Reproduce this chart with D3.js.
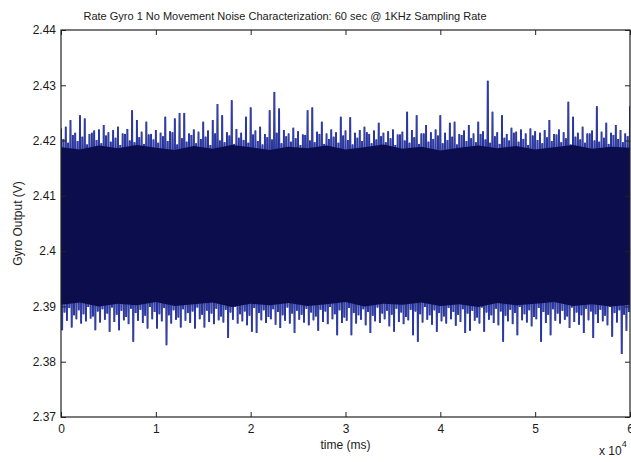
<!DOCTYPE html>
<html>
<head>
<meta charset="utf-8">
<script src="https://cdn.jsdelivr.net/npm/d3@7"></script>
<style>
  body { margin: 0; background: #fff; }
  text { font-family: "Liberation Sans", Arial, sans-serif; fill: #1a1a1a; }
</style>
</head>
<body>
<svg id="chart" width="631" height="462"></svg>
<script>
// values, one entry every 500 ms
// major = the larger excursion in that half second, minor = the smaller one 250 ms later
const STEP_MS = 500;
const majorHigh = [
  2.4222, 2.4225, 2.4237, 2.4214, 2.4246, 2.4240, 2.4212, 2.4218, 2.4220, 2.4228,
  2.4215, 2.4219, 2.4225, 2.4213, 2.4221, 2.4255, 2.4237, 2.4216, 2.4234, 2.4212,
  2.4219, 2.4214, 2.4243, 2.4217, 2.4240, 2.4250, 2.4250, 2.4213, 2.4220, 2.4216,
  2.4234, 2.4218, 2.4237, 2.4266, 2.4246, 2.4215, 2.4273, 2.4221, 2.4214, 2.4243,
  2.4260, 2.4218, 2.4225, 2.4212, 2.4255, 2.4288, 2.4258, 2.4219, 2.4213, 2.4223,
  2.4217, 2.4211, 2.4255, 2.4260, 2.4216, 2.4234, 2.4213, 2.4220, 2.4215, 2.4243,
  2.4218, 2.4242, 2.4214, 2.4219, 2.4225, 2.4212, 2.4218, 2.4232, 2.4214, 2.4217,
  2.4220, 2.4211, 2.4216, 2.4252, 2.4219, 2.4246, 2.4213, 2.4228, 2.4215, 2.4220,
  2.4246, 2.4214, 2.4232, 2.4234, 2.4212, 2.4218, 2.4228, 2.4213, 2.4234, 2.4217,
  2.4308, 2.4252, 2.4215, 2.4246, 2.4212, 2.4223, 2.4216, 2.4220, 2.4213, 2.4222,
  2.4217, 2.4214, 2.4219, 2.4237, 2.4212, 2.4220, 2.4215, 2.4270, 2.4243, 2.4214,
  2.4225, 2.4213, 2.4218, 2.4262, 2.4216, 2.4232, 2.4214, 2.4228, 2.4219, 2.4213,
  2.4262
];
const minorHigh = [
  2.4203, 2.4196, 2.4210, 2.4199, 2.4207, 2.4193, 2.4214, 2.4201, 2.4195, 2.4209,
  2.4198, 2.4205, 2.4192, 2.4212, 2.4200, 2.4197, 2.4206, 2.4194, 2.4211, 2.4202,
  2.4196, 2.4208, 2.4199, 2.4215, 2.4193, 2.4204, 2.4198, 2.4210, 2.4195, 2.4203,
  2.4207, 2.4192, 2.4213, 2.4200, 2.4197, 2.4209, 2.4194, 2.4205, 2.4201, 2.4196,
  2.4211, 2.4199, 2.4193, 2.4206, 2.4202, 2.4214, 2.4195, 2.4208, 2.4198, 2.4204,
  2.4192, 2.4210, 2.4200, 2.4197, 2.4212, 2.4194, 2.4203, 2.4207, 2.4196, 2.4209,
  2.4201, 2.4193, 2.4205, 2.4199, 2.4215, 2.4195, 2.4202, 2.4208, 2.4197, 2.4204,
  2.4192, 2.4211, 2.4200, 2.4196, 2.4206, 2.4194, 2.4213, 2.4198, 2.4203, 2.4209,
  2.4195, 2.4201, 2.4207, 2.4193, 2.4210, 2.4199, 2.4204, 2.4197, 2.4212, 2.4202,
  2.4196, 2.4208, 2.4194, 2.4205, 2.4200, 2.4214, 2.4198, 2.4203, 2.4192, 2.4209,
  2.4201, 2.4195, 2.4206, 2.4199, 2.4211, 2.4197, 2.4204, 2.4193, 2.4207, 2.4202,
  2.4196, 2.4213, 2.4200, 2.4198, 2.4205, 2.4194, 2.4210, 2.4203, 2.4197, 2.4208,
  2.4201
];
const majorLow = [
  2.3857, 2.3874, 2.3862, 2.3877, 2.3869, 2.3873, 2.3878, 2.3857, 2.3871, 2.3876,
  2.3854, 2.3872, 2.3857, 2.3875, 2.3868, 2.3836, 2.3874, 2.3870, 2.3860, 2.3877,
  2.3860, 2.3873, 2.3830, 2.3869, 2.3876, 2.3862, 2.3874, 2.3870, 2.3860, 2.3877,
  2.3862, 2.3872, 2.3868, 2.3875, 2.3871, 2.3843, 2.3876, 2.3869, 2.3873, 2.3866,
  2.3854, 2.3852, 2.3875, 2.3870, 2.3877, 2.3867, 2.3861, 2.3874, 2.3869, 2.3852,
  2.3876, 2.3871, 2.3866, 2.3875, 2.3856, 2.3872, 2.3868, 2.3877, 2.3848, 2.3870,
  2.3874, 2.3848, 2.3869, 2.3876, 2.3866, 2.3852, 2.3873, 2.3870, 2.3877, 2.3864,
  2.3854, 2.3872, 2.3868, 2.3875, 2.3848, 2.3836, 2.3871, 2.3876, 2.3867, 2.3854,
  2.3873, 2.3869, 2.3877, 2.3865, 2.3872, 2.3852, 2.3856, 2.3874, 2.3869, 2.3854,
  2.3876, 2.3870, 2.3866, 2.3836, 2.3873, 2.3868, 2.3848, 2.3875, 2.3871, 2.3864,
  2.3877, 2.3836, 2.3870, 2.3848, 2.3874, 2.3869, 2.3876, 2.3861, 2.3872, 2.3867,
  2.3852, 2.3875, 2.3843, 2.3870, 2.3873, 2.3866, 2.3845, 2.3871, 2.3814, 2.3856,
  2.3872
];
const minorLow = [
  2.3889, 2.3897, 2.3884, 2.3893, 2.3886, 2.3899, 2.3882, 2.3891, 2.3895, 2.3887,
  2.3898, 2.3885, 2.3892, 2.3881, 2.3896, 2.3888, 2.3894, 2.3883, 2.3899, 2.3890,
  2.3886, 2.3897, 2.3884, 2.3893, 2.3880, 2.3895, 2.3888, 2.3891, 2.3898, 2.3885,
  2.3892, 2.3887, 2.3896, 2.3882, 2.3894, 2.3889, 2.3899, 2.3886, 2.3891, 2.3883,
  2.3897, 2.3888, 2.3893, 2.3881, 2.3895, 2.3890, 2.3884, 2.3898, 2.3887, 2.3892,
  2.3885, 2.3896, 2.3889, 2.3882, 2.3894, 2.3891, 2.3899, 2.3886, 2.3893, 2.3880,
  2.3897, 2.3888, 2.3884, 2.3895, 2.3890, 2.3883, 2.3898, 2.3887, 2.3892, 2.3885,
  2.3896, 2.3889, 2.3881, 2.3894, 2.3891, 2.3886, 2.3899, 2.3884, 2.3893, 2.3888,
  2.3882, 2.3897, 2.3890, 2.3885, 2.3895, 2.3887, 2.3892, 2.3880, 2.3898, 2.3889,
  2.3884, 2.3896, 2.3891, 2.3883, 2.3894, 2.3888, 2.3899, 2.3886, 2.3893, 2.3881,
  2.3897, 2.3890, 2.3885, 2.3895, 2.3887, 2.3892, 2.3882, 2.3898, 2.3889, 2.3884,
  2.3896, 2.3891, 2.3886, 2.3894, 2.3883, 2.3899, 2.3888, 2.3893, 2.3885, 2.3890,
  2.3887
];

// the solid dark band where the trace overlaps itself, every 2000 ms
const CORE_STEP_MS = 2000;
const coreTop = [
  2.4188, 2.4184, 2.4191, 2.4186, 2.4192, 2.4187, 2.4183, 2.4190, 2.4185, 2.4192,
  2.4188, 2.4183, 2.4189, 2.4186, 2.4191, 2.4184, 2.4188, 2.4193, 2.4185, 2.4189,
  2.4182, 2.4187, 2.4191, 2.4186, 2.4190, 2.4184, 2.4188, 2.4192, 2.4185, 2.4189,
  2.4187
];
const coreBottom = [
  2.3903, 2.3907, 2.3900, 2.3905, 2.3902, 2.3908, 2.3901, 2.3904, 2.3907, 2.3899,
  2.3905, 2.3902, 2.3906, 2.3901, 2.3904, 2.3908, 2.3900, 2.3905, 2.3903, 2.3907,
  2.3901, 2.3904, 2.3899, 2.3906, 2.3902, 2.3905, 2.3908, 2.3901, 2.3904, 2.3900,
  2.3903
];

const xTicks = [0, 10000, 20000, 30000, 40000, 50000, 60000];
const xTickLabels = ["0", "1", "2", "3", "4", "5", "6"];
const yTicks = [2.37, 2.38, 2.39, 2.40, 2.41, 2.42, 2.43, 2.44];
const yTickLabels = ["2.37", "2.38", "2.39", "2.4", "2.41", "2.42", "2.43", "2.44"];

const WIDTH = 631;
const HEIGHT = 462;
const margin = { top: 30, right: 1, bottom: 45, left: 61 };
const plotW = WIDTH - margin.left - margin.right;
const plotH = HEIGHT - margin.top - margin.bottom;

const svg = d3.select("#chart");

const x = d3.scaleLinear().domain([0, 60000]).range([0, plotW]);
const y = d3.scaleLinear().domain([2.37, 2.44]).range([plotH, 0]);

const g = svg.append("g").attr("transform", `translate(${margin.left},${margin.top})`);

g.append("clipPath").attr("id", "plot-clip")
  .append("rect").attr("width", plotW).attr("height", plotH);

// trace: high, low, smaller high, smaller low within each half second
const trace = [];
majorHigh.forEach((v, i) => {
  const t = i * STEP_MS;
  trace.push([t, v]);
  trace.push([t + STEP_MS * 0.25, majorLow[i]]);
  trace.push([t + STEP_MS * 0.5, minorHigh[i]]);
  trace.push([t + STEP_MS * 0.75, minorLow[i]]);
});

const lineGen = d3.line().x(d => x(d[0])).y(d => y(d[1]));

const plot = g.append("g").attr("clip-path", "url(#plot-clip)");

plot.append("path")
  .datum(trace)
  .attr("fill", "none")
  .attr("stroke", "#10155f")
  .attr("stroke-width", 1.8)
  .attr("d", lineGen);

plot.append("path")
  .datum(trace)
  .attr("fill", "none")
  .attr("stroke", "#3448cc")
  .attr("stroke-width", 0.7)
  .attr("d", lineGen);

const areaGen = d3.area()
  .x((d, i) => x(i * CORE_STEP_MS))
  .y0((d, i) => y(coreBottom[i]))
  .y1(d => y(d));

plot.append("path")
  .datum(coreTop)
  .attr("fill", "#0c0d4c")
  .attr("d", areaGen);

// axes, MATLAB style: ticks inside on all four sides
const yAxis = d3.axisLeft(y).tickValues(yTicks)
  .tickFormat((d, i) => yTickLabels[i])
  .tickSizeInner(-5).tickSizeOuter(0).tickPadding(5);
const xAxis = d3.axisBottom(x).tickValues(xTicks)
  .tickFormat((d, i) => xTickLabels[i])
  .tickSizeInner(-5).tickSizeOuter(0).tickPadding(7);

g.append("g").call(yAxis);
g.append("g").attr("transform", `translate(0,${plotH})`).call(xAxis);
g.append("g").call(d3.axisTop(x).tickValues(xTicks).tickFormat("").tickSizeInner(-5).tickSizeOuter(0));
g.append("g").attr("transform", `translate(${plotW},0)`)
  .call(d3.axisRight(y).tickValues(yTicks).tickFormat("").tickSizeInner(-5).tickSizeOuter(0));

g.selectAll(".domain").remove();
g.selectAll(".tick line").attr("stroke", "#222");
g.selectAll(".tick text").attr("font-size", 12).style("fill", "#1a1a1a");

g.append("rect")
  .attr("width", plotW).attr("height", plotH)
  .attr("fill", "none").attr("stroke", "#222").attr("stroke-width", 1.2);

// titles
svg.append("text")
  .attr("x", 285).attr("y", 20)
  .attr("text-anchor", "middle").attr("font-size", 11)
  .text("Rate Gyro 1 No Movement Noise Characterization: 60 sec @ 1KHz Sampling Rate");

svg.append("text")
  .attr("x", margin.left + plotW / 2).attr("y", 449)
  .attr("text-anchor", "middle").attr("font-size", 12)
  .text("time (ms)");

svg.append("text")
  .attr("transform", `translate(22,${margin.top + plotH / 2}) rotate(-90)`)
  .attr("text-anchor", "middle").attr("font-size", 12)
  .text("Gyro Output (V)");

const expo = svg.append("text")
  .attr("x", 599).attr("y", 455).attr("font-size", 12);
expo.append("tspan").text("x 10");
expo.append("tspan").attr("dy", -8).attr("font-size", 9).text("4");
</script>
</body>
</html>
